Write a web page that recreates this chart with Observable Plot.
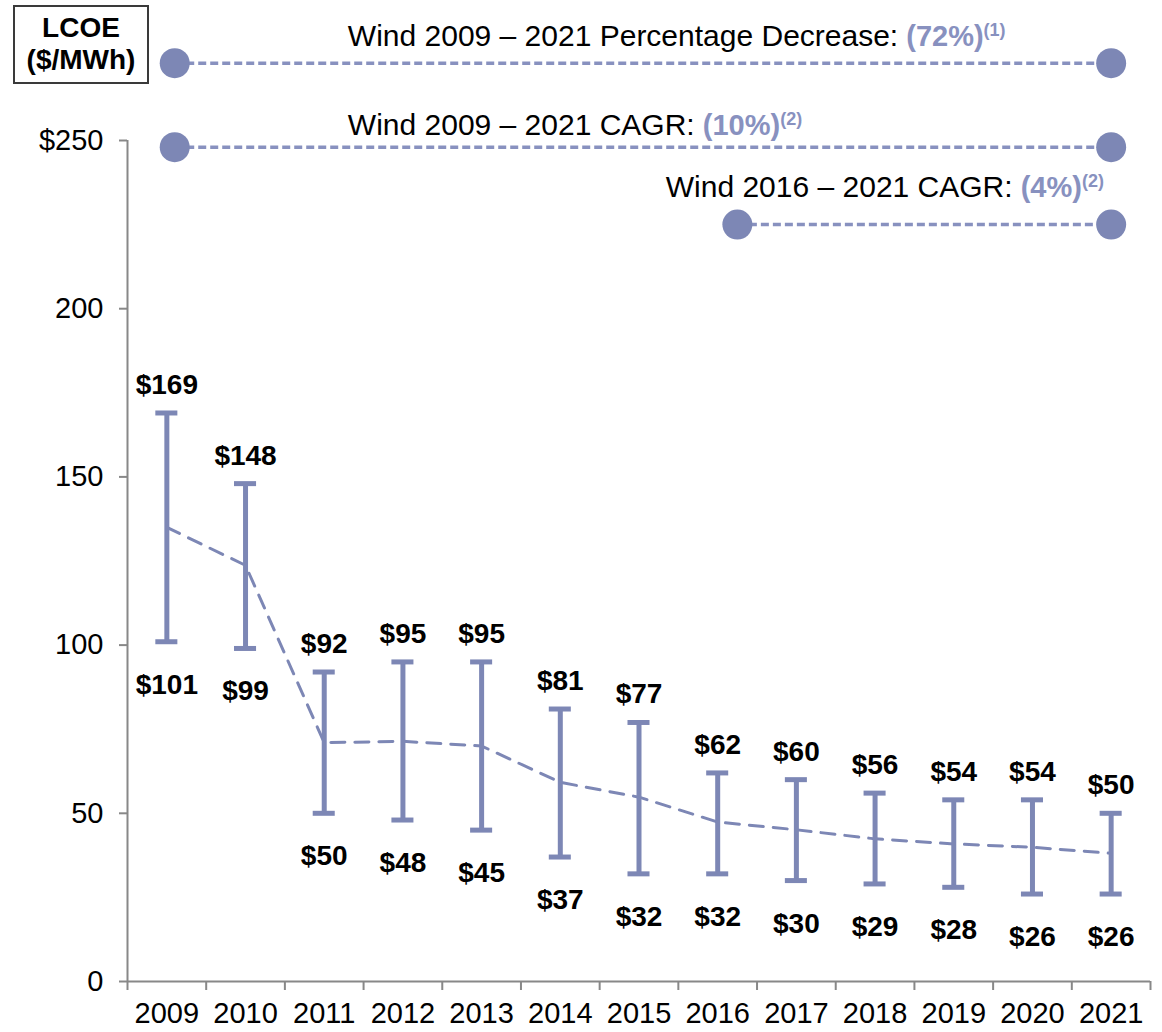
<!DOCTYPE html>
<html>
<head>
<meta charset="utf-8">
<script src="https://cdn.jsdelivr.net/npm/d3@7"></script>
<script src="https://cdn.jsdelivr.net/npm/@observablehq/plot@0.6"></script>
<style>
  body { margin: 0; background: #fff; }
  #wrap { position: relative; width: 1162px; height: 1032px; font-family: "Liberation Sans", Arial, sans-serif; }
  #unit {
    position: absolute; left: 13px; top: 5px; width: 132px;
    border: 2.5px solid #3a3a3a; background: #fff; text-align: center;
    font-weight: bold; font-size: 28px; line-height: 32px; color: #000;
    padding-top: 5px; box-sizing: content-box; height: 70px; z-index: 2;
  }
</style>
</head>
<body>
<div id="wrap">
  <div id="unit">LCOE<br>($/MWh)</div>
</div>
<script>
// ---- data ----
const years = [2009, 2010, 2011, 2012, 2013, 2014, 2015, 2016, 2017, 2018, 2019, 2020, 2021];
const high  = [169, 148, 92, 95, 95, 81, 77, 62, 60, 56, 54, 54, 50];
const low   = [101, 99, 50, 48, 45, 37, 32, 32, 30, 29, 28, 26, 26];
const mid   = [135, 123.7, 71, 71.4, 70, 59.2, 54.8, 47.4, 45.1, 42.4, 40.9, 39.9, 38.1];

const yTicks = [0, 50, 100, 150, 200, 250];
const yTickLabels = ["0", "50", "100", "150", "200", "$250"];

const annLabels = ["Wind 2009 – 2021 Percentage Decrease:", "Wind 2009 – 2021 CAGR:", "Wind 2016 – 2021 CAGR:"];
const annValues = ["(72%)", "(10%)", "(4%)"];
const annNotes  = ["(1)", "(2)", "(2)"];
const annStart  = [2009.1, 2009.1, 2016.25];
const annEnd    = [2021, 2021, 2021];
const annLevel  = [273, 248, 225];
const annTextX  = [2011.3, 2011.3, 2015.34];
const annTextY  = [278.2, 251.5, 233.1];

// ---- build ----
const barColor = "#7d87b5";
const annColor = "#8891bf";
const pctColor = "#8891bf";
const boundaries = d3.range(years.length + 1).map(i => years[0] - 0.5 + i);
const data = years.map((year, i) => ({year, high: high[i], low: low[i], mid: mid[i]}));
const ann = annLabels.map((label, i) => ({label, value: annValues[i], note: annNotes[i],
  x1: annStart[i], x2: annEnd[i], y: annLevel[i], tx: annTextX[i], ty: annTextY[i]}));
const capHalf = 0.14;

const chart = Plot.plot({
  width: 1162, height: 1032,
  marginLeft: 127, marginRight: 12, marginTop: 140, marginBottom: 51,
  x: {domain: [boundaries[0], boundaries[boundaries.length - 1]]},
  y: {domain: [0, 250]},
  style: {fontFamily: "'Liberation Sans', Arial, sans-serif", fontSize: "29px", background: "#fff", color: "#000", overflow: "visible"},
  marks: [
    Plot.axisY({ticks: yTicks, tickFormat: d => yTickLabels[yTicks.indexOf(d)], tickSize: 8, tickPadding: 16,
      stroke: "#888", strokeWidth: 2, fill: "#000", fontSize: 29, label: null}),
    Plot.axisX({ticks: boundaries, tickSize: 9, tickFormat: () => "", stroke: "#888", strokeWidth: 2, label: null}),
    Plot.axisX({ticks: years, tickSize: 0, tickPadding: 21, tickFormat: d => String(d), fill: "#000", fontSize: 29, label: null}),
    Plot.ruleX([boundaries[0]], {y1: 0, y2: 250, stroke: "#888", strokeWidth: 2}),
    Plot.ruleY([0], {x1: boundaries[0], x2: boundaries[boundaries.length - 1], stroke: "#888", strokeWidth: 2}),
    Plot.line(data, {x: "year", y: "mid", stroke: barColor, strokeWidth: 3, strokeDasharray: "14,10"}),
    Plot.ruleX(data, {x: "year", y1: "low", y2: "high", stroke: barColor, strokeWidth: 5}),
    Plot.ruleY(data, {y: "high", x1: d => d.year - capHalf, x2: d => d.year + capHalf, stroke: barColor, strokeWidth: 5}),
    Plot.ruleY(data, {y: "low", x1: d => d.year - capHalf, x2: d => d.year + capHalf, stroke: barColor, strokeWidth: 5}),
    Plot.text(data, {x: "year", y: "high", text: d => "$" + d.high, dy: -19, lineAnchor: "bottom", fontWeight: "bold", fontSize: 28, fill: "#000"}),
    Plot.text(data, {x: "year", y: "low", text: d => "$" + d.low, dy: 52, lineAnchor: "bottom", fontWeight: "bold", fontSize: 28, fill: "#000"}),
    Plot.ruleY(ann, {y: "y", x1: "x1", x2: "x2", stroke: annColor, strokeWidth: 3.5, strokeDasharray: "8,4"}),
    Plot.dot(ann, {x: "x1", y: "y", r: 15, fill: barColor}),
    Plot.dot(ann, {x: "x2", y: "y", r: 15, fill: barColor}),
    Plot.text(ann, {x: "tx", y: "ty", text: "label", textAnchor: "start", lineAnchor: "bottom", fontSize: 30, fill: "#000"})
  ]
});

// rich text for annotation values
d3.select(chart).selectAll("text").each(function() {
  const i = annLabels.indexOf(this.textContent);
  if (i < 0) return;
  const t = d3.select(this);
  t.append("tspan").attr("font-weight", "bold").attr("fill", pctColor).attr("font-size", 29).text(" " + annValues[i]);
  t.append("tspan").attr("font-weight", "bold").attr("fill", pctColor).attr("font-size", 18).attr("dy", -10).text(annNotes[i]);
});

document.getElementById("wrap").appendChild(chart);
chart.style.position = "absolute";
chart.style.left = "0px";
chart.style.top = "0px";
</script>
</body>
</html>
